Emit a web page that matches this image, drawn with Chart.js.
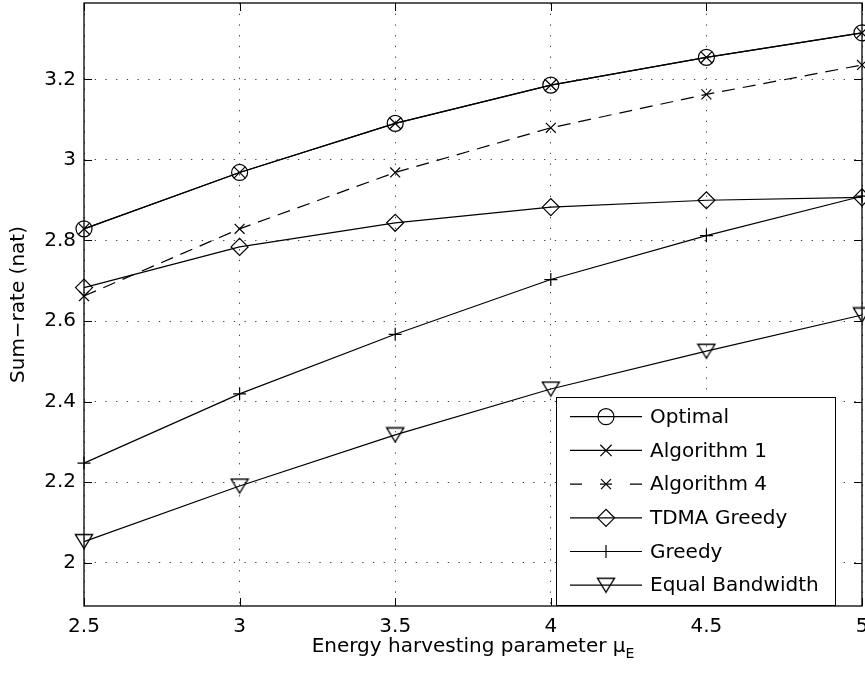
<!DOCTYPE html>
<html>
<head>
<meta charset="utf-8">
<script src="https://cdn.jsdelivr.net/npm/chart.js@4.4.1/dist/chart.umd.min.js"></script>
<style>
  html, body { margin: 0; padding: 0; background: #fff; }
  canvas { display: block; }
</style>
</head>
<body>
<canvas id="chart" width="865" height="676"></canvas>
<script>
// values
const muE = [2.5, 3, 3.5, 4, 4.5, 5];
const optimal = [2.829, 2.969, 3.091, 3.186, 3.255, 3.316];
const algorithm1 = [2.829, 2.969, 3.091, 3.186, 3.255, 3.316];
const algorithm4 = [2.662, 2.829, 2.969, 3.080, 3.163, 3.236];
const tdmaGreedy = [2.683, 2.784, 2.844, 2.883, 2.900, 2.907];
const greedy = [2.247, 2.419, 2.567, 2.703, 2.812, 2.910];
const equalBandwidth = [2.052, 2.190, 2.317, 2.431, 2.525, 2.615];

const xTicks = [2.5, 3, 3.5, 4, 4.5, 5];
const yTicks = [2, 2.2, 2.4, 2.6, 2.8, 3, 3.2];

const FONT = 'DejaVu Sans';

// downward triangle marker, centred on its bounding box like matlab's 'v'
function triangleDown() {
    const c = document.createElement('canvas');
    c.width = 20;
    c.height = 17;
    const g = c.getContext('2d');
    g.strokeStyle = '#000';
    g.lineWidth = 1.4;
    g.beginPath();
    g.moveTo(1.5, 1.5);
    g.lineTo(18.5, 1.5);
    g.lineTo(10, 15.5);
    g.closePath();
    g.stroke();
    return c;
}

function pts(ys) {
    return muE.map((x, i) => ({ x: x, y: ys[i] }));
}

function line(label, ys, style, radius, dash) {
    return {
        label: label,
        data: pts(ys),
        borderColor: '#000',
        borderWidth: 1.2,
        borderDash: dash || [],
        pointStyle: style,
        pointRadius: radius,
        pointBorderWidth: 1.2,
        pointBorderColor: '#000',
        pointBackgroundColor: 'rgba(0,0,0,0)',
        tension: 0,
        clip: false
    };
}

const datasets = [
    line('Optimal', optimal, 'circle', 8),
    line('Algorithm 1', algorithm1, 'crossRot', 8),
    line('Algorithm 4', algorithm4, 'crossRot', 7, [13, 8]),
    line('TDMA Greedy', tdmaGreedy, 'rectRot', 8.5),
    line('Greedy', greedy, 'cross', 6.5),
    line('Equal Bandwidth', equalBandwidth, triangleDown(), 9)
];

// box round the axes with matlab style inward ticks
const axesBox = {
    id: 'axesBox',
    afterDatasetsDraw(chart) {
        const ctx = chart.ctx;
        const a = chart.chartArea;
        const xs = chart.scales.x;
        const ys = chart.scales.y;
        ctx.save();
        ctx.strokeStyle = '#000';
        ctx.lineWidth = 1.3;
        ctx.setLineDash([]);
        ctx.strokeRect(a.left, a.top, a.right - a.left, a.bottom - a.top);
        ctx.lineWidth = 1;
        ctx.beginPath();
        xTicks.forEach(v => {
            const px = Math.round(xs.getPixelForValue(v)) + 0.5;
            ctx.moveTo(px, a.bottom); ctx.lineTo(px, a.bottom - 8);
            ctx.moveTo(px, a.top); ctx.lineTo(px, a.top + 8);
        });
        yTicks.forEach(v => {
            const py = Math.round(ys.getPixelForValue(v)) + 0.5;
            ctx.moveTo(a.left, py); ctx.lineTo(a.left + 8, py);
            ctx.moveTo(a.right, py); ctx.lineTo(a.right - 8, py);
        });
        ctx.stroke();

        // x label with subscript E
        const main = 'Energy harvesting parameter \u03bc';
        ctx.fillStyle = '#000';
        ctx.textBaseline = 'alphabetic';
        ctx.font = '20px "' + FONT + '"';
        const w1 = ctx.measureText(main).width;
        ctx.font = '14px "' + FONT + '"';
        const w2 = ctx.measureText('E').width;
        const cx = (a.left + a.right) / 2;
        const x0 = cx - (w1 + w2) / 2;
        ctx.font = '20px "' + FONT + '"';
        ctx.fillText(main, x0, 652);
        ctx.font = '14px "' + FONT + '"';
        ctx.fillText('E', x0 + w1, 658);
        ctx.restore();
    }
};

// legend box drawn inside the axes, lower right
const boxLegend = {
    id: 'boxLegend',
    afterDatasetsDraw(chart) {
        const ctx = chart.ctx;
        const left = 556, top = 397, width = 279, height = 208;
        ctx.save();
        ctx.fillStyle = '#fff';
        ctx.fillRect(left, top, width, height);
        ctx.strokeStyle = '#000';
        ctx.lineWidth = 1;
        ctx.strokeRect(left + 0.5, top + 0.5, width, height);
        chart.data.datasets.forEach((ds, i) => {
            const y = 416.7 + i * 33.7;
            ctx.strokeStyle = '#000';
            ctx.lineWidth = 1.2;
            ctx.setLineDash(ds.borderDash.length ? [12, 18] : []);
            ctx.beginPath();
            ctx.moveTo(570, y);
            ctx.lineTo(642, y);
            ctx.stroke();
            ctx.setLineDash([]);
            ctx.fillStyle = 'rgba(0,0,0,0)';
            Chart.helpers.drawPoint(ctx, {
                pointStyle: ds.pointStyle,
                radius: ds.pointRadius,
                borderWidth: 1.2,
                rotation: 0
            }, 606, y);
            ctx.fillStyle = '#000';
            ctx.font = '20px "' + FONT + '"';
            ctx.textBaseline = 'middle';
            ctx.textAlign = 'left';
            ctx.fillText(ds.label, 650, y + 1);
        });
        ctx.restore();
    }
};

const gridDots = {
    color: 'rgba(0,0,0,0.75)',
    lineWidth: 1,
    drawTicks: false
};

new Chart(document.getElementById('chart'), {
    type: 'line',
    data: { datasets: datasets },
    plugins: [axesBox, boxLegend],
    options: {
        responsive: false,
        animation: false,
        devicePixelRatio: 1,
        layout: { autoPadding: false, padding: { top: 3, right: 3, left: 0, bottom: 0 } },
        plugins: {
            legend: { display: false },
            tooltip: { enabled: false }
        },
        scales: {
            x: {
                type: 'linear',
                min: 2.5,
                max: 5,
                grid: gridDots,
                border: { display: false, dash: [1.3, 9.4] },
                afterBuildTicks: s => { s.ticks = xTicks.map(v => ({ value: v })); },
                afterFit: s => { s.height = 70; s.paddingLeft = 0; s.paddingRight = 0; },
                ticks: {
                    autoSkip: false,
                    maxRotation: 0,
                    padding: 9,
                    color: '#000',
                    font: { family: FONT, size: 20 },
                    callback: v => String(v)
                }
            },
            y: {
                type: 'linear',
                min: 1.892,
                max: 3.39,
                grid: gridDots,
                border: { display: false, dash: [1.3, 9.4] },
                afterBuildTicks: s => { s.ticks = yTicks.map(v => ({ value: v })); },
                afterFit: s => { s.width = 84; s.paddingTop = 0; s.paddingBottom = 0; },
                ticks: {
                    autoSkip: false,
                    padding: 8,
                    color: '#000',
                    font: { family: FONT, size: 20 },
                    callback: v => String(v)
                },
                title: {
                    display: true,
                    text: 'Sum\u2212rate (nat)',
                    color: '#000',
                    font: { family: FONT, size: 20 },
                    padding: { top: 7, bottom: 0 }
                }
            }
        }
    }
});
</script>
</body>
</html>
